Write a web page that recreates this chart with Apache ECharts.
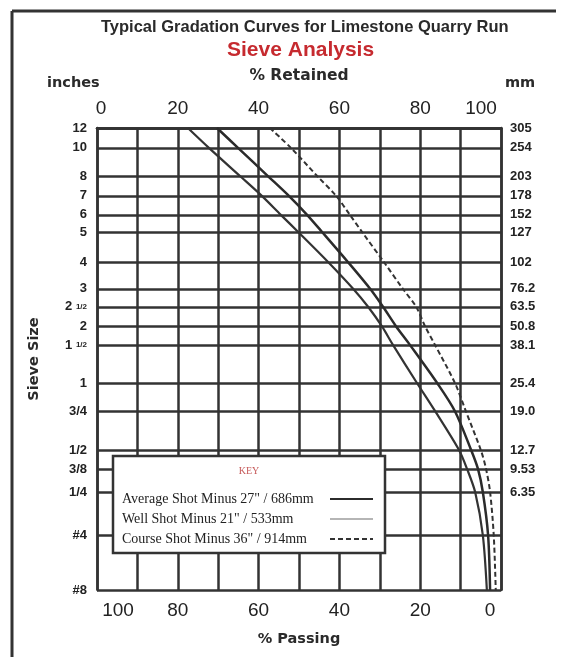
<!DOCTYPE html>
<html><head><meta charset="utf-8">
<script src="https://cdn.jsdelivr.net/npm/echarts@6/dist/echarts.min.js"></script>
<style>html,body{margin:0;padding:0;background:#fff}#c{width:576px;height:657px}</style>
</head><body><div id="c"></div>
<script>
// Sieve sizes (rows of the chart, top to bottom)
const sieveInches = ['12','10','8','7','6','5','4','3','2 1/2','2','1 1/2','1','3/4','1/2','3/8','1/4','#4','#8'];
const sieveMm = ['305','254','203','178','152','127','102','76.2','63.5','50.8','38.1','25.4','19.0','12.7','9.53','6.35','',''];
// Position of each sieve line on the chart's (non-uniform) sieve scale, 0 = top, 100 = bottom
const sievePos = [0,4.3,10.4,14.7,18.8,22.5,29.0,34.8,38.7,42.9,47.0,55.2,61.3,69.7,73.8,78.8,88.1,100];
// % passing read at each sieve line
const avgPassing = [70.3,65.1,57.7,52.5,48.0,44.3,37.9,32.4,29.2,26.0,22.5,15.8,11.4,7.4,5.7,4.5,3.2,2.7];
const wellPassing = [77.5,72.3,64.6,59.2,54.5,50.2,42.8,36.6,32.9,29.5,26.7,20.8,16.3,10.4,8.4,6.4,4.5,3.5];
const coursePassing = [57.2,52.0,45.5,40.8,37.4,34.4,29.0,24.3,21.0,18.8,16.3,11.4,8.7,5.0,3.7,2.7,1.8,1.3];
const seriesNames = ['Average Shot Minus 27" / 686mm','Well Shot Minus 21" / 533mm','Course Shot Minus 36" / 914mm'];

const ink = '#333';
const sans = '"Liberation Sans", Arial, sans-serif';
const heavy = '"DejaVu Sans", sans-serif';
const serif = '"Liberation Serif", "Times New Roman", serif';
function pts(vals){ return vals.map((v,i)=>[v, sievePos[i]]); }
function nearest(v){ let b=0; for(let i=0;i<sievePos.length;i++){ if(Math.abs(sievePos[i]-v)<Math.abs(sievePos[b]-v)) b=i; } return b; }
function inchFmt(v){ const s = sieveInches[nearest(v)]; const m = s.match(/^(\d) (\d\/\d)$/); return m ? m[1]+' {f|'+m[2]+'}' : s; }
function mmFmt(v){ return sieveMm[nearest(v)]; }
function topFmt(v){ if (v % 20 !== 0) return ''; if (v === 100) return '{e|100}'; if (v === 0) return '{s|0}'; return String(v); }
function botFmt(v){ if (v % 20 !== 0) return ''; if (v === 100) return '{s|100}'; if (v === 0) return '{e|0}'; return String(v); }
const numStyle = {fontFamily:sans, fontSize:19, color:'#222'};
const headStyle = {fontFamily:heavy, fontSize:14.5, fontWeight:'bold', color:'#2a2a2a'};

const chart = echarts.init(document.getElementById('c'));
chart.setOption({
  animation:false,
  backgroundColor:'#fff',
  title:[
    {text:'Typical Gradation Curves for Limestone Quarry Run', left:101, top:19, padding:0,
     textStyle:{fontFamily:sans, fontSize:16.5, fontWeight:'bold', color:'#2a2a2a'}},
    {text:'Sieve Analysis', left:227, top:40, padding:0,
     textStyle:{fontFamily:sans, fontSize:21, fontWeight:'bold', color:'#c62a2f'}},
    {text:'inches', left:47, top:76, padding:0, textStyle:headStyle},
    {text:'mm', left:505, top:76, padding:0, textStyle:headStyle}
  ],
  grid:{left:97, right:75, top:128, bottom:67, containLabel:false},
  xAxis:[
    {type:'value', position:'bottom', inverse:true, min:0, max:100, interval:10,
     axisLine:{show:true, lineStyle:{color:ink, width:2.5}}, axisTick:{show:false},
     splitLine:{show:true, lineStyle:{color:ink, width:2.5}},
     axisLabel:Object.assign({formatter:botFmt, margin:11,
       rich:{s:Object.assign({padding:[0,0,0,42]}, numStyle), e:Object.assign({padding:[0,22,0,0]}, numStyle)}}, numStyle),
     name:'% Passing', nameLocation:'middle', nameGap:42, nameTextStyle:headStyle},
    {type:'value', position:'top', min:0, max:100, interval:10,
     axisLine:{show:true, lineStyle:{color:ink, width:2.5}}, axisTick:{show:false},
     splitLine:{show:false},
     axisLabel:Object.assign({formatter:topFmt, margin:10,
       rich:{s:Object.assign({padding:[0,0,0,8]}, numStyle), e:Object.assign({padding:[0,40,0,0]}, numStyle)}}, numStyle),
     name:'% Retained', nameLocation:'middle', nameGap:44,
     nameTextStyle:Object.assign({}, headStyle, {fontSize:15.5})}
  ],
  yAxis:[
    {type:'value', position:'left', inverse:true, min:0, max:100,
     axisLine:{show:true, lineStyle:{color:ink, width:2.5}},
     axisTick:{show:false, customValues:sievePos},
     splitLine:{show:true, lineStyle:{color:ink, width:2.5}},
     axisLabel:{customValues:sievePos, formatter:inchFmt, fontFamily:sans, fontSize:13, fontWeight:'bold', color:'#222', margin:10,
       rich:{f:{fontFamily:sans, fontSize:8, fontWeight:'bold', color:'#222'}}},
     name:'Sieve Size', nameLocation:'middle', nameGap:55, nameRotate:90, nameTextStyle:headStyle},
    {type:'value', position:'right', inverse:true, min:0, max:100,
     axisLine:{show:true, lineStyle:{color:ink, width:2.5}},
     axisTick:{show:false, customValues:sievePos},
     splitLine:{show:false},
     axisLabel:{customValues:sievePos, formatter:mmFmt, fontFamily:sans, fontSize:13, fontWeight:'bold', color:'#222', margin:9}}
  ],
  legend:{
    orient:'vertical', left:117, top:487, align:'right', itemWidth:43, itemHeight:12, itemGap:6,
    selectedMode:false, padding:5,
    itemStyle:{opacity:0},
    formatter: n => '{a|' + n + '}',
    textStyle:{fontFamily:serif, fontSize:14, color:'#222',
      rich:{a:{width:203, align:'left', fontFamily:serif, fontSize:14, color:'#222'}}},
    data:[{name:seriesNames[0]},{name:seriesNames[1], lineStyle:{color:'#b5b5b5'}},{name:seriesNames[2]}]
  },
  graphic:[
    {type:'line', shape:{x1:12,y1:11,x2:12,y2:657}, style:{stroke:ink, lineWidth:3}},
    {type:'line', shape:{x1:12,y1:11,x2:556,y2:11}, style:{stroke:ink, lineWidth:3}},
    {type:'rect', z:3, shape:{x:113,y:456,width:272,height:97}, style:{fill:'#fff', stroke:ink, lineWidth:2.5}},
    {type:'text', z:5, x:249, y:471, style:{text:'KEY', fill:'#c65a5a', font:'10px "Liberation Serif"', align:'center', verticalAlign:'middle'}}
  ],
  series:[
    {type:'line', name:seriesNames[0], xAxisIndex:0, yAxisIndex:0, data:pts(avgPassing),
     symbol:'none', showSymbol:false, smooth:0.3, lineStyle:{color:'#2b2b2b', width:2.5}, itemStyle:{color:'#2b2b2b'}},
    {type:'line', name:seriesNames[1], xAxisIndex:0, yAxisIndex:0, data:pts(wellPassing),
     symbol:'none', showSymbol:false, smooth:0.3, lineStyle:{color:'#333', width:2.2}, itemStyle:{color:'#333'}},
    {type:'line', name:seriesNames[2], xAxisIndex:0, yAxisIndex:0, data:pts(coursePassing),
     symbol:'none', showSymbol:false, smooth:0.3, lineStyle:{color:'#333', width:2, type:[5,3]}, itemStyle:{color:'#333'}}
  ]
});
</script></body></html>
